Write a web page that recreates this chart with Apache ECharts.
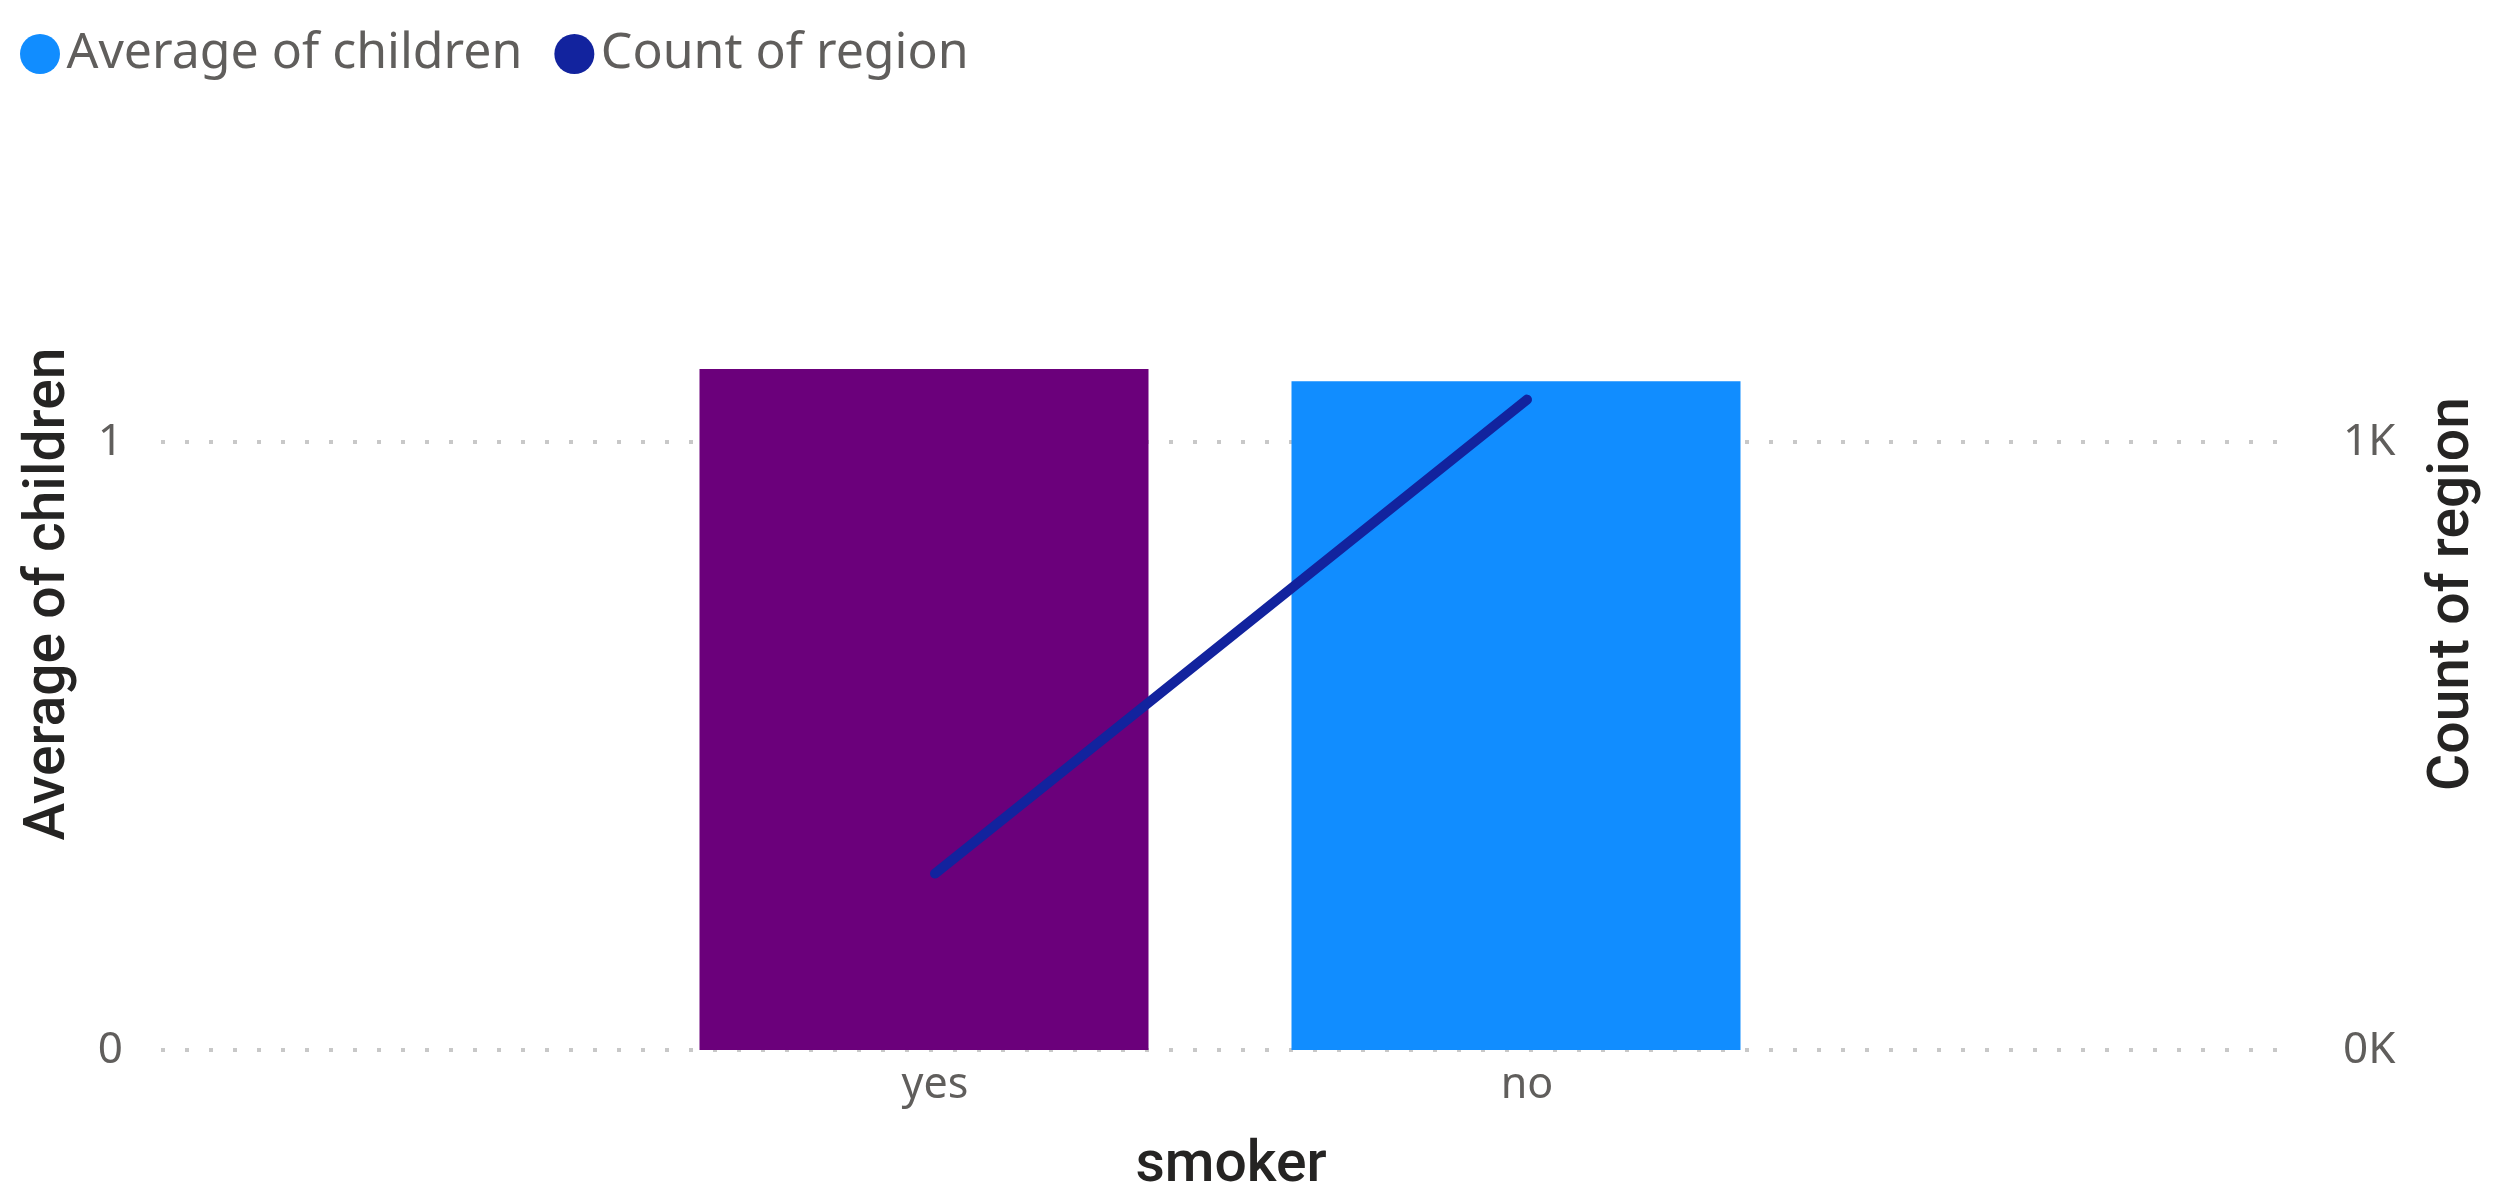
<!DOCTYPE html>
<html>
<head>
<meta charset="utf-8">
<title>Average of children and Count of region by smoker</title>
<script src="https://cdn.jsdelivr.net/npm/echarts@6/dist/echarts.min.js"></script>
<style>
  html, body { margin: 0; padding: 0; background: #ffffff; }
  #chart { width: 2508px; height: 1200px; }
</style>
</head>
<body>
<div id="chart"></div>
<script>
// smoker categories
const categories = ['yes', 'no'];
// Average of children per smoker group (columns, left axis)
const avgChildren = [1.12, 1.10];
// Count of region per smoker group (line, right axis)
const countRegion = [274, 1064];
// column fill per category
const barColors = ['#6B007B', '#118DFF'];

const seriesNames = ['Average of children', 'Count of region'];
const lineColor = '#12239E';
const labelFont = "'Noto Sans', 'Open Sans', sans-serif";
const titleFont = "Roboto, 'DejaVu Sans Condensed', sans-serif";

const leftMax = 1.5, rightMax = 1500;
const plotTop = 138, plotBottom = 150;

const chart = echarts.init(document.getElementById('chart'), null, { renderer: 'canvas' });

const titleStyle = { fontFamily: titleFont, fontSize: 57, fontWeight: 500, color: '#252423' };

chart.setOption({
  animation: false,
  backgroundColor: '#ffffff',
  legend: {
    left: 15,
    top: 24,
    icon: 'circle',
    itemWidth: 43,
    itemHeight: 40,
    itemGap: 32,
    textStyle: { fontFamily: labelFont, fontSize: 50, color: '#605E5C' },
    data: [
      { name: seriesNames[0], itemStyle: { color: '#118DFF' } },
      { name: seriesNames[1], itemStyle: { color: lineColor } }
    ]
  },
  grid: [
    // frame: y axes, gridlines
    { left: 161, right: 211, top: plotTop, bottom: plotBottom },
    // columns
    { left: 628, width: 1184, top: plotTop, bottom: plotBottom },
    // line and category labels
    { left: 639, width: 1184, top: plotTop, bottom: plotBottom }
  ],
  xAxis: [
    { type: 'category', gridIndex: 0, data: categories, show: false },
    { type: 'category', gridIndex: 1, data: categories, show: false },
    {
      type: 'category', gridIndex: 2, data: categories,
      axisLine: { show: false },
      axisTick: { show: false },
      axisLabel: { fontFamily: labelFont, fontSize: 43, color: '#605E5C', margin: 26 },
      name: 'smoker',
      nameLocation: 'middle',
      nameGap: 100,
      nameTextStyle: titleStyle
    }
  ],
  yAxis: [
    {
      type: 'value', gridIndex: 0, position: 'left',
      min: 0, max: leftMax, interval: 1,
      axisLine: { show: false },
      axisTick: { show: false },
      axisLabel: { fontFamily: labelFont, fontSize: 44, color: '#605E5C', margin: 38, showMaxLabel: false },
      splitLine: {
        show: true, showMaxLine: false,
        lineStyle: { color: '#C8C8C8', width: 4, type: [4, 20] }
      },
      name: seriesNames[0],
      nameLocation: 'middle',
      nameRotate: 90,
      nameGap: 83,
      nameTextStyle: titleStyle
    },
    {
      type: 'value', gridIndex: 0, position: 'right',
      min: 0, max: rightMax, interval: 1000,
      axisLine: { show: false },
      axisTick: { show: false },
      splitLine: { show: false },
      axisLabel: {
        fontFamily: labelFont, fontSize: 44, color: '#605E5C', margin: 46, showMaxLabel: false,
        formatter: v => (v / 1000) + 'K'
      },
      name: seriesNames[1],
      nameLocation: 'middle',
      nameRotate: 90,
      nameGap: 128,
      nameTextStyle: titleStyle
    },
    { type: 'value', gridIndex: 1, min: 0, max: leftMax, show: false, splitLine: { show: false } },
    { type: 'value', gridIndex: 2, min: 0, max: rightMax, show: false, splitLine: { show: false } }
  ],
  series: [
    {
      name: seriesNames[0],
      type: 'bar',
      xAxisIndex: 1,
      yAxisIndex: 2,
      barWidth: 449,
      color: '#118DFF',
      data: avgChildren.map((v, i) => ({ value: v, itemStyle: { color: barColors[i] } }))
    },
    {
      name: seriesNames[1],
      type: 'line',
      xAxisIndex: 2,
      yAxisIndex: 3,
      symbol: 'none',
      color: lineColor,
      lineStyle: { color: lineColor, width: 10, cap: 'round' },
      data: countRegion
    }
  ]
});
</script>
</body>
</html>
